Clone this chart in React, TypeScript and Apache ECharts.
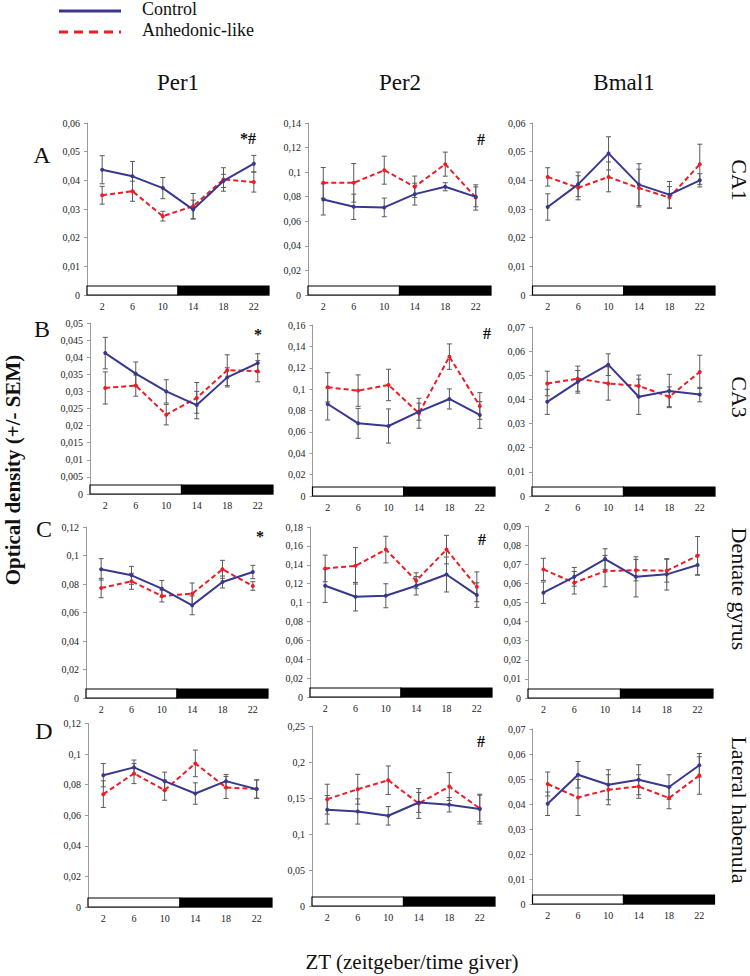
import React, { useEffect, useRef } from 'react';
import * as echarts from 'echarts';

// ---------- data ----------
const zt = ['2', '6', '10', '14', '18', '22'];
const genes = ['Per1', 'Per2', 'Bmal1'];
const regions = ['CA1', 'CA3', 'Dentate gyrus', 'Lateral habenula'];
const rowLetters = ['A', 'B', 'C', 'D'];
const lightPhase = [0, 12];
const darkPhase = [12, 24];

// CA1
const ca1Per1Ctrl = [0.0437, 0.0414, 0.0373, 0.0298, 0.0398, 0.0458];
const ca1Per1CtrlSem = [0.0049, 0.0052, 0.0037, 0.0033, 0.0023, 0.0029];
const ca1Per1Anh = [0.0348, 0.0362, 0.0275, 0.031, 0.0403, 0.0394];
const ca1Per1AnhSem = [0.0031, 0.0035, 0.0017, 0.0044, 0.0041, 0.0035];

const ca1Per2Ctrl = [0.0778, 0.0718, 0.0713, 0.0821, 0.0881, 0.0799];
const ca1Per2CtrlSem = [0.0127, 0.0103, 0.0076, 0.0089, 0.0033, 0.0081];
const ca1Per2Anh = [0.0913, 0.0913, 0.1016, 0.0881, 0.1065, 0.0794];
const ca1Per2AnhSem = [0.0125, 0.0157, 0.0114, 0.0087, 0.0098, 0.0103];

const ca1Bmal1Ctrl = [0.0307, 0.0386, 0.0494, 0.0385, 0.035, 0.04];
const ca1Bmal1CtrlSem = [0.0046, 0.0043, 0.0058, 0.0073, 0.0046, 0.0023];
const ca1Bmal1Anh = [0.0412, 0.0374, 0.0412, 0.0373, 0.034, 0.0456];
const ca1Bmal1AnhSem = [0.0032, 0.0042, 0.0052, 0.0066, 0.0038, 0.007];

// CA3
const ca3Per1Ctrl = [0.0412, 0.0352, 0.03, 0.026, 0.0341, 0.0383];
const ca3Per1CtrlSem = [0.0046, 0.0034, 0.0034, 0.004, 0.0028, 0.0027];
const ca3Per1Anh = [0.031, 0.0317, 0.0232, 0.0281, 0.0362, 0.0359];
const ca3Per1AnhSem = [0.0047, 0.0031, 0.003, 0.0045, 0.0045, 0.0031];

const ca3Per2Ctrl = [0.0861, 0.068, 0.0655, 0.0789, 0.0908, 0.0758];
const ca3Per2CtrlSem = [0.015, 0.014, 0.016, 0.008, 0.0094, 0.0125];
const ca3Per2Anh = [0.1017, 0.0986, 0.1039, 0.0774, 0.1304, 0.0842];
const ca3Per2AnhSem = [0.0137, 0.0147, 0.0147, 0.014, 0.0119, 0.0125];

const ca3Bmal1Ctrl = [0.039, 0.0473, 0.0544, 0.0411, 0.0435, 0.042];
const ca3Bmal1CtrlSem = [0.0052, 0.0047, 0.0045, 0.0073, 0.0069, 0.003];
const ca3Bmal1Anh = [0.0466, 0.0486, 0.0466, 0.0456, 0.0411, 0.0514];
const ca3Bmal1AnhSem = [0.0051, 0.0052, 0.0069, 0.0045, 0.0041, 0.0069];

// Dentate gyrus
const dgPer1Ctrl = [0.0903, 0.0861, 0.0767, 0.065, 0.0814, 0.0884];
const dgPer1CtrlSem = [0.0075, 0.0063, 0.0058, 0.0066, 0.0042, 0.0047];
const dgPer1Anh = [0.0772, 0.0819, 0.0716, 0.0732, 0.0903, 0.0786];
const dgPer1AnhSem = [0.0068, 0.0056, 0.0042, 0.0075, 0.0063, 0.003];

const dgPer2Ctrl = [0.1178, 0.1062, 0.1072, 0.1178, 0.1297, 0.1079];
const dgPer2CtrlSem = [0.0176, 0.0151, 0.0127, 0.0098, 0.0185, 0.013];
const dgPer2Anh = [0.1361, 0.1389, 0.1561, 0.1231, 0.1561, 0.1167];
const dgPer2AnhSem = [0.0141, 0.0193, 0.0141, 0.0084, 0.0151, 0.0158];

const dgBmal1Ctrl = [0.0551, 0.0634, 0.0727, 0.0634, 0.0647, 0.0696];
const dgBmal1CtrlSem = [0.0056, 0.0049, 0.0054, 0.0105, 0.0082, 0.0052];
const dgBmal1Anh = [0.0673, 0.0603, 0.0664, 0.0669, 0.0666, 0.0744];
const dgBmal1AnhSem = [0.0058, 0.0059, 0.0082, 0.0056, 0.006, 0.0101];

// Lateral habenula
const lhPer1Ctrl = [0.0862, 0.0913, 0.0823, 0.0742, 0.0823, 0.0771];
const lhPer1CtrlSem = [0.0076, 0.0048, 0.0059, 0.007, 0.0044, 0.006];
const lhPer1Anh = [0.0738, 0.0873, 0.0764, 0.0939, 0.0782, 0.0771];
const lhPer1AnhSem = [0.0087, 0.0066, 0.0066, 0.0087, 0.0072, 0.006];

const lhPer2Ctrl = [0.1336, 0.1313, 0.1253, 0.1438, 0.1406, 0.1346];
const lhPer2CtrlSem = [0.0198, 0.0175, 0.0129, 0.0138, 0.01, 0.0207];
const lhPer2Anh = [0.1484, 0.1622, 0.1747, 0.1424, 0.1659, 0.1355];
const lhPer2AnhSem = [0.0207, 0.0207, 0.0198, 0.0207, 0.0194, 0.0184];

const lhBmal1Ctrl = [0.0401, 0.0517, 0.0477, 0.0497, 0.0468, 0.0555];
const lhBmal1CtrlSem = [0.0047, 0.0053, 0.006, 0.006, 0.0049, 0.0047];
const lhBmal1Anh = [0.048, 0.0426, 0.0457, 0.047, 0.0424, 0.0514];
const lhBmal1AnhSem = [0.0048, 0.0072, 0.006, 0.0047, 0.0043, 0.0075];

// y-axis tick settings per panel (row-major)
const yMax = [0.06, 0.14, 0.06, 0.05, 0.16, 0.07, 0.12, 0.18, 0.09, 0.12, 0.25, 0.07];
const yStep = [0.01, 0.02, 0.01, 0.005, 0.02, 0.01, 0.02, 0.02, 0.01, 0.02, 0.05, 0.01];

// significance marks per panel index
const sigMarks = [
  { panel: 0, text: '*#' },
  { panel: 1, text: '#' },
  { panel: 3, text: '*' },
  { panel: 4, text: '#' },
  { panel: 6, text: '*' },
  { panel: 7, text: '#' },
  { panel: 10, text: '#' },
];

// ---------- layout (pixels) ----------
// [left, top, right, bottom] of each plot area
const boxes = [
  [87, 123, 269, 295],
  [308, 123, 491, 295],
  [532.5, 123, 715, 295],
  [90, 323, 273, 494],
  [312.5, 325, 495, 496],
  [532, 327, 715, 496],
  [86, 527, 268, 698],
  [310, 527, 492, 697],
  [528, 526, 713, 698],
  [88, 723.5, 272, 907],
  [312, 726, 495, 906],
  [532.5, 729, 714.5, 904],
];
const sigPos = [
  [248, 138],
  [481, 139],
  [0, 0],
  [258, 334],
  [487, 333],
  [0, 0],
  [260, 536],
  [482, 539],
  [0, 0],
  [0, 0],
  [481, 741],
  [0, 0],
];

const FONT = '"Liberation Serif", "Times New Roman", serif';
const BLUE = '#38388f';
const RED = '#ee1c25';
const ERR = '#5a5a5a';

const panelData = [
  [ca1Per1Ctrl, ca1Per1CtrlSem, ca1Per1Anh, ca1Per1AnhSem],
  [ca1Per2Ctrl, ca1Per2CtrlSem, ca1Per2Anh, ca1Per2AnhSem],
  [ca1Bmal1Ctrl, ca1Bmal1CtrlSem, ca1Bmal1Anh, ca1Bmal1AnhSem],
  [ca3Per1Ctrl, ca3Per1CtrlSem, ca3Per1Anh, ca3Per1AnhSem],
  [ca3Per2Ctrl, ca3Per2CtrlSem, ca3Per2Anh, ca3Per2AnhSem],
  [ca3Bmal1Ctrl, ca3Bmal1CtrlSem, ca3Bmal1Anh, ca3Bmal1AnhSem],
  [dgPer1Ctrl, dgPer1CtrlSem, dgPer1Anh, dgPer1AnhSem],
  [dgPer2Ctrl, dgPer2CtrlSem, dgPer2Anh, dgPer2AnhSem],
  [dgBmal1Ctrl, dgBmal1CtrlSem, dgBmal1Anh, dgBmal1AnhSem],
  [lhPer1Ctrl, lhPer1CtrlSem, lhPer1Anh, lhPer1AnhSem],
  [lhPer2Ctrl, lhPer2CtrlSem, lhPer2Anh, lhPer2AnhSem],
  [lhBmal1Ctrl, lhBmal1CtrlSem, lhBmal1Anh, lhBmal1AnhSem],
];

const fmt = (v: number) => (v === 0 ? '0' : String(+v.toFixed(4)).replace('.', ','));

function errorRender(params: any, api: any) {
  const lo = api.coord([api.value(0), api.value(1)]);
  const hi = api.coord([api.value(0), api.value(2)]);
  const x = lo[0];
  const w = 2.5;
  const st = { stroke: ERR, lineWidth: 1 };
  return {
    type: 'group',
    children: [
      { type: 'line', shape: { x1: x, y1: lo[1], x2: x, y2: hi[1] }, style: st },
      { type: 'line', shape: { x1: x - w, y1: lo[1], x2: x + w, y2: lo[1] }, style: st },
      { type: 'line', shape: { x1: x - w, y1: hi[1], x2: x + w, y2: hi[1] }, style: st },
    ],
  };
}

function phaseRender(params: any, api: any) {
  const a = api.coord([api.value(0), 0]);
  const b = api.coord([api.value(1), 0]);
  const h = 9;
  return {
    type: 'rect',
    shape: { x: a[0], y: a[1] - h, width: b[0] - a[0], height: h },
    style: { fill: api.value(2) ? '#000' : '#fff', stroke: '#000', lineWidth: 1.2 },
  };
}

function buildOption() {
  const grid: any[] = [];
  const xAxis: any[] = [];
  const yAxis: any[] = [];
  const series: any[] = [];
  boxes.forEach((b, i) => {
    grid.push({ left: b[0], top: b[1], width: b[2] - b[0], height: b[3] - b[1], containLabel: false });
    xAxis.push({
      type: 'category',
      gridIndex: i,
      data: zt,
      boundaryGap: true,
      axisLine: { lineStyle: { color: '#9a9a9a', width: 1 } },
      axisTick: { length: 3, lineStyle: { color: '#9a9a9a' } },
      axisLabel: { interval: 0, margin: 6, fontSize: 10, fontFamily: FONT, color: '#222' },
      splitLine: { show: false },
    });
    xAxis.push({ type: 'value', gridIndex: i, min: 0, max: 24, show: false });
    yAxis.push({
      type: 'value',
      gridIndex: i,
      min: 0,
      max: yMax[i],
      interval: yStep[i],
      axisLine: { show: true, lineStyle: { color: '#9a9a9a', width: 1 } },
      axisTick: { show: true, length: 3, lineStyle: { color: '#9a9a9a' } },
      axisLabel: { margin: 7, fontSize: 10, fontFamily: FONT, color: '#222', formatter: fmt },
      splitLine: { show: false },
    });
    const [ctrl, ctrlSem, anh, anhSem] = panelData[i];
    series.push({
      type: 'custom',
      xAxisIndex: 2 * i + 1,
      yAxisIndex: i,
      renderItem: phaseRender,
      data: [
        [lightPhase[0], lightPhase[1], 0],
        [darkPhase[0], darkPhase[1], 1],
      ],
      z: 1,
      silent: true,
    });
    series.push({
      type: 'custom',
      xAxisIndex: 2 * i,
      yAxisIndex: i,
      renderItem: errorRender,
      data: ctrl.map((m, k) => [k, m - ctrlSem[k], m + ctrlSem[k]]),
      z: 2,
      silent: true,
    });
    series.push({
      type: 'custom',
      xAxisIndex: 2 * i,
      yAxisIndex: i,
      renderItem: errorRender,
      data: anh.map((m, k) => [k, m - anhSem[k], m + anhSem[k]]),
      z: 2,
      silent: true,
    });
    series.push({
      type: 'line',
      name: 'Anhedonic-like',
      xAxisIndex: 2 * i,
      yAxisIndex: i,
      data: anh,
      symbol: 'circle',
      symbolSize: 4,
      itemStyle: { color: RED },
      lineStyle: { color: RED, width: 2, type: [5, 3] },
      z: 3,
    });
    series.push({
      type: 'line',
      name: 'Control',
      xAxisIndex: 2 * i,
      yAxisIndex: i,
      data: ctrl,
      symbol: 'circle',
      symbolSize: 4,
      itemStyle: { color: BLUE },
      lineStyle: { color: BLUE, width: 2 },
      z: 4,
    });
  });

  const txt = (text: string, x: number, y: number, size: number, extra: any = {}, rotation = 0) => ({
    type: 'text',
    x,
    y,
    rotation,
    style: {
      text,
      fontSize: size,
      fontFamily: FONT,
      fill: '#111',
      align: 'center',
      verticalAlign: 'middle',
      ...extra,
    },
  });

  const graphic: any[] = [
    { type: 'line', shape: { x1: 59, y1: 11, x2: 121, y2: 11 }, style: { stroke: BLUE, lineWidth: 3 } },
    { type: 'line', shape: { x1: 59, y1: 32, x2: 121, y2: 32 }, style: { stroke: RED, lineWidth: 3, lineDash: [9, 6] } },
    txt('Control', 142, 9, 18, { align: 'left' }),
    txt('Anhedonic-like', 142, 30, 18, { align: 'left' }),
  ];
  const colCenters = [178, 400, 624];
  genes.forEach((g, k) => graphic.push(txt(g, colCenters[k], 82, 23)));
  const letterPos = [
    [42, 155],
    [42, 329],
    [44, 529],
    [44, 731],
  ];
  rowLetters.forEach((l, k) => graphic.push(txt(l, letterPos[k][0], letterPos[k][1], 24)));
  const regionY = [180, 397, 589, 810];
  regions.forEach((r, k) => graphic.push(txt(r, 739, regionY[k], 22, {}, -Math.PI / 2)));
  graphic.push(txt('Optical density (+/- SEM)', 13, 470, 21, { fontWeight: 'bold' }, Math.PI / 2));
  graphic.push(txt('ZT (zeitgeber/time giver)', 412, 962, 21));
  sigMarks.forEach((s) => {
    const p = sigPos[s.panel];
    graphic.push(txt(s.text, p[0], p[1], 16, { fontWeight: 'bold' }));
  });

  return {
    animation: false,
    backgroundColor: '#fff',
    grid,
    xAxis,
    yAxis,
    series,
    graphic,
  };
}

export default function App() {
  const ref = useRef<HTMLDivElement>(null);
  useEffect(() => {
    const chart = echarts.init(ref.current as HTMLDivElement, null, { renderer: 'svg' });
    chart.setOption(buildOption() as any);
    return () => chart.dispose();
  }, []);
  return <div ref={ref} style={{ position: 'absolute', left: 0, top: 0, width: 750, height: 976 }} />;
}
